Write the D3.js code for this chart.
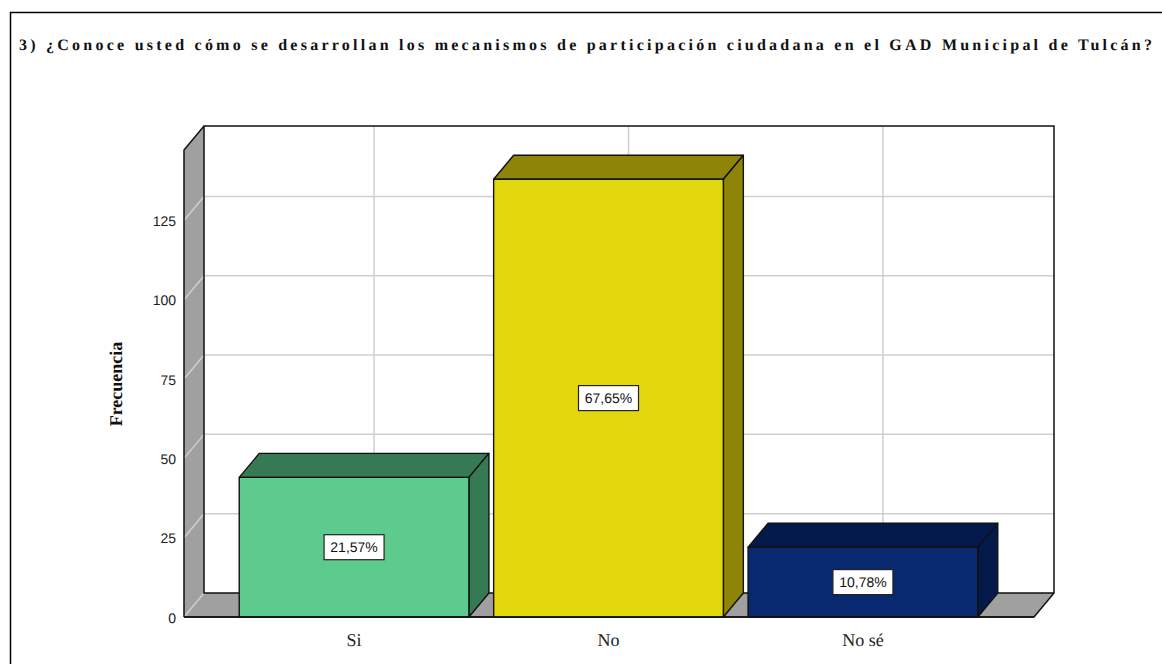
<!DOCTYPE html>
<html><head><meta charset="utf-8">
<script src="https://cdnjs.cloudflare.com/ajax/libs/d3/7.8.5/d3.min.js"></script>
<style>html,body{margin:0;padding:0;background:#fff;overflow:hidden}svg{display:block}
text{text-rendering:geometricPrecision}</style></head><body>
<script>
const titleText = "3) ¿Conoce usted cómo se desarrollan los mecanismos de participación ciudadana en el GAD Municipal de Tulcán?";
const categories = ["Si", "No", "No sé"];
const frequencies = [44, 138, 22];
const percentLabels = ["21,57%", "67,65%", "10,78%"];
const frontColors = ["#5dcb8d", "#e3d80e", "#082870"];
const sideColors = ["#367a54", "#8d8408", "#041a4a"];
const yTicks = [0, 25, 50, 75, 100, 125];

const W = 1162, H = 664;
const svg = d3.select("body").append("svg").attr("width", W).attr("height", H);
const dx = 20, dy = -24;
const frontLeft = 184, frontRight = 1034, floorY = 617, topBackY = 126;

const y = d3.scaleLinear().domain([0, 147.2]).range([floorY, topBackY - dy]);
const x = d3.scaleBand().domain(categories).range([226.5, 990.5]).paddingInner(0.0972).paddingOuter(0.05);
const poly = pts => pts.map(p => p.join(",")).join(" ");
const line = "#111";

// frame
svg.append("path").attr("d", `M10.5,${H} V12.5 H${W}`).attr("fill", "none").attr("stroke", "#000").attr("stroke-width", 1.5);

svg.append("text").attr("x", 19).attr("y", 50).attr("font-family", "Liberation Serif").attr("font-weight", "bold")
  .attr("font-size", 16).attr("textLength", 1133).attr("fill", "#111").text(titleText);

// back wall, floor and side wall
const topY = y.range()[1];
svg.append("rect").attr("x", frontLeft + dx).attr("y", topY + dy).attr("width", frontRight - frontLeft).attr("height", floorY - topY)
  .attr("fill", "#fff");
svg.append("polygon").attr("points", poly([[frontLeft, floorY], [frontLeft + dx, floorY + dy], [frontRight + dx, floorY + dy], [frontRight, floorY]]))
  .attr("fill", "#a0a0a0");
svg.append("polygon").attr("points", poly([[frontLeft, topY], [frontLeft + dx, topY + dy], [frontLeft + dx, floorY + dy], [frontLeft, floorY]]))
  .attr("fill", "#a0a0a0");

// gridlines
const grid = svg.append("g").attr("stroke", "#cfcfcf").attr("stroke-width", 1.5).attr("fill", "none");
yTicks.filter(t => t > 0).forEach(t => {
  grid.append("line").attr("x1", frontLeft + dx).attr("x2", frontRight + dx).attr("y1", y(t) + dy).attr("y2", y(t) + dy);
});
yTicks.forEach(t => {
  grid.append("line").attr("x1", frontLeft).attr("x2", frontLeft + dx).attr("y1", y(t)).attr("y2", y(t) + dy);
});
categories.forEach(c => {
  const cx = x(c) + x.bandwidth() / 2 + dx;
  grid.append("line").attr("x1", cx).attr("x2", cx).attr("y1", topY + dy).attr("y2", floorY + dy);
});

// wall outlines
svg.append("path").attr("fill", "none").attr("stroke", line).attr("stroke-width", 1.5)
  .attr("d", `M${frontLeft},${floorY} V${topY} L${frontLeft + dx},${topY + dy} H${frontRight + dx} V${floorY + dy} L${frontRight},${floorY} H${frontLeft}
              M${frontLeft + dx},${topY + dy} V${floorY + dy} H${frontRight + dx}`);

// bars
const bars = svg.append("g").selectAll("g").data(categories).join("g");
bars.each(function (c, i) {
  const g = d3.select(this), x0 = x(c), x1 = x0 + x.bandwidth(), yt = y(frequencies[i]);
  const st = { stroke: "#111", "stroke-width": 1.4, "stroke-linejoin": "round" };
  const add = (pts, fill) => { const p = g.append("polygon").attr("points", poly(pts)).attr("fill", fill);
    Object.entries(st).forEach(([k, v]) => p.attr(k, v)); };
  add([[x0, yt], [x0 + dx, yt + dy], [x1 + dx, yt + dy], [x1, yt]], sideColors[i]);
  add([[x1, yt], [x1 + dx, yt + dy], [x1 + dx, floorY + dy], [x1, floorY]], sideColors[i]);
  add([[x0, yt], [x1, yt], [x1, floorY], [x0, floorY]], frontColors[i]);
  const cx = (x0 + x1) / 2, cy = (yt + floorY) / 2;
  g.append("rect").attr("x", cx - 30).attr("y", cy - 12.5).attr("width", 60).attr("height", 25)
    .attr("fill", "#fff").attr("stroke", "#222").attr("stroke-width", 1.2).attr("transform", "translate(0,0)");
  g.append("text").attr("x", cx).attr("y", cy + 5).attr("text-anchor", "middle").attr("font-family", "Liberation Sans")
    .attr("font-size", 14).attr("fill", "#111").text(percentLabels[i]);
});

// front baseline
svg.append("line").attr("x1", frontLeft).attr("x2", frontRight).attr("y1", floorY).attr("y2", floorY).attr("stroke", line).attr("stroke-width", 1.5);

// axis labels
svg.append("g").selectAll("text").data(yTicks).join("text")
  .attr("x", 176).attr("y", d => y(d) + 5.5).attr("text-anchor", "end").attr("font-family", "Liberation Sans")
  .attr("font-size", 14).attr("fill", "#222").text(d => d);
svg.append("g").selectAll("text").data(categories).join("text")
  .attr("x", c => x(c) + x.bandwidth() / 2).attr("y", 646).attr("text-anchor", "middle")
  .attr("font-family", "Liberation Serif").attr("font-size", 18).attr("fill", "#222").text(c => c);
svg.append("text").attr("transform", "translate(122,384) rotate(-90)").attr("text-anchor", "middle")
  .attr("font-family", "Liberation Serif").attr("font-weight", "bold").attr("font-size", 18).attr("fill", "#111").text("Frecuencia");
</script></body></html>
